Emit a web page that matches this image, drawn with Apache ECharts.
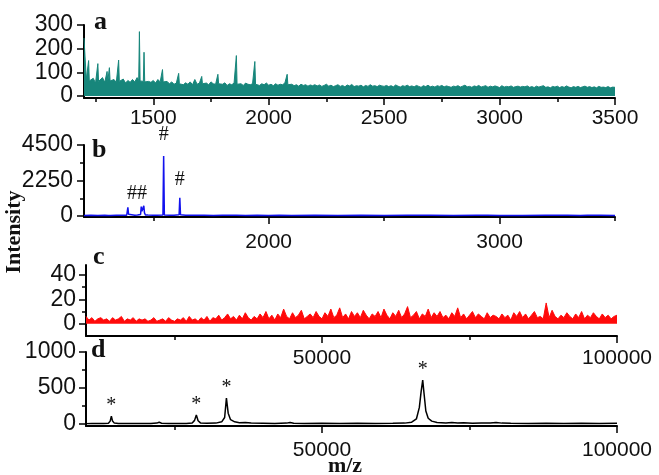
<!DOCTYPE html>
<html><head><meta charset="utf-8">
<script src="https://cdn.jsdelivr.net/npm/echarts@6/dist/echarts.min.js"></script>
<style>html,body{margin:0;padding:0;background:#fff}#c{width:659px;height:475px}</style>
</head><body><div id="c"></div>
<script>
// ---------- panel a (teal) ----------
const aMz = [
1200,1210,1217,1220,1223,1230,1240,1250,1257,1260,1263,1270,1280,1290,
1297,1300,1303,1307,1310,1313,1320,1330,1340,1347,1350,1353,1360,1370,1380,1390,
1400,1410,1420,1430,1437,1440,1443,1450,1457,1460,1463,1470,1480,1490,
1500,1510,1520,1530,1537,1540,1543,1550,1560,1570,1580,1590,
1600,1607,1610,1613,1620,1630,1640,1650,1660,1670,1680,1690,
1700,1707,1710,1713,1720,1730,1740,1750,1760,1770,1777,1780,1783,1790,
1800,1810,1820,1830,1840,1850,1857,1860,1863,1870,1880,1890,
1900,1910,1920,1930,1937,1940,1943,1950,1960,1970,1980,1990,
2000,2010,2020,2030,2040,2050,2060,2070,2077,2080,2083,2090,
2100,2110,2120,2130,2140,2150,2160,2170,2180,2190,
2200,2210,2220,2230,2240,2250,2260,2270,2280,2290,
2300,2310,2320,2330,2340,2350,2360,2370,2380,2390,
2400,2410,2420,2430,2440,2450,2460,2470,2480,2490,
2500,2510,2520,2530,2540,2550,2560,2570,2580,2590,
2600,2610,2620,2630,2640,2650,2660,2670,2680,2690,
2700,2710,2720,2730,2740,2750,2760,2770,2780,2790,
2800,2810,2820,2830,2840,2850,2860,2870,2880,2890,
2900,2910,2920,2930,2940,2950,2960,2970,2980,2990,
3000,3010,3020,3030,3040,3050,3060,3070,3080,3090,
3100,3110,3120,3130,3140,3150,3160,3170,3180,3190,
3200,3210,3220,3230,3240,3250,3260,3270,3280,3290,
3300,3310,3320,3330,3340,3350,3360,3370,3380,3390,
3400,3410,3420,3430,3440,3450,3460,3470,3480,3490,
3500];
const aInt = [
245,70,62,150,64,60,75,55,60,137,62,62,78,58,
64,104,62,66,120,64,62,70,58,60,152,62,60,72,55,66,
58,70,60,78,66,272,64,64,62,185,60,55,62,58,
66,55,70,60,62,112,60,56,62,52,60,50,
55,54,96,52,52,48,56,50,60,48,70,50,
55,52,83,52,50,55,48,60,52,50,50,92,52,55,
50,56,45,52,48,55,50,171,50,48,52,45,
55,50,48,52,50,146,50,50,45,52,48,55,
46,50,44,52,46,50,48,55,50,92,48,45,
50,44,48,42,50,45,48,42,47,44,
48,43,47,41,45,50,42,46,40,44,
48,41,45,39,47,43,49,40,44,42,
46,39,45,41,48,42,44,40,46,43,
41,45,40,44,39,47,42,38,44,41,
46,40,43,39,45,41,37,44,40,46,
39,42,38,44,41,45,39,43,40,37,
42,40,44,38,42,46,39,41,37,43,
40,45,38,41,44,37,42,39,43,40,
36,44,38,41,39,43,37,40,42,38,
41,39,43,37,40,36,42,38,41,44,
37,39,35,41,38,42,36,40,37,43,
38,35,40,37,41,36,39,42,37,40,
36,39,35,41,37,38,36,40,35,38,
37];

// ---------- panel b (blue) ----------
const bMz = [
1200,1230,1260,1290,1305,1310,1315,1340,1360,
1385,1388,1390,1393,1396,1420,1432,1435,1438,
1445,1448,1451,1454,1459,1462,1466,1477,1480,1483,
1500,1515,1518,1521,1542,1545,1548,1570,1590,
1612,1615,1618,1640,1680,1720,1760,1800,1840,
1860,1863,1866,1900,1950,2000,2046,2049,2052,
2100,2200,2300,2400,2500,2600,2639,2642,2645,2700,2800,2900,
2948,2951,2954,3000,3046,3049,3052,3100,3200,
3241,3244,3247,3294,3297,3300,3350,3380,3383,3386,
3436,3439,3442,3500];
const bInt = [
40,55,35,50,40,110,40,55,45,
50,120,550,120,50,55,60,180,60,
100,600,300,350,650,200,70,60,150,55,
50,45,90,45,60,3800,60,50,55,
80,1160,80,50,45,55,40,50,45,
45,90,45,40,50,40,45,70,45,
40,45,40,45,40,45,45,80,40,45,40,45,
45,110,45,40,40,120,45,40,45,
45,130,45,45,120,45,40,45,140,45,
45,120,45,40];
const bMarkMz = [1430, 1545, 1615];
const bMarkInt = [650, 3800, 1160];
const bMarkText = ['##', '#', '#'];

// ---------- panel c (red) ----------
const cMz = [
10000,10500,11000,11500,12000,12500,13000,13500,14000,14500,15000,15500,16000,16500,17000,17500,18000,18500,19000,19500,
20000,20500,21000,21500,22000,22500,23000,23500,24000,24500,25000,25500,26000,26500,27000,27500,28000,28500,29000,29500,
30000,30500,31000,31500,32000,32500,33000,33500,34000,34500,35000,35500,36000,36500,37000,37500,38000,38500,39000,39500,
40000,40500,41000,41500,42000,42500,43000,43500,44000,44500,45000,45500,46000,46500,47000,47500,48000,48500,49000,49500,
50000,50500,51000,51500,52000,52500,53000,53500,54000,54500,55000,55500,56000,56500,57000,57500,58000,58500,59000,59500,
60000,60500,61000,61500,62000,62500,63000,63500,64000,64500,65000,65500,66000,66500,67000,67500,68000,68500,69000,69500,
70000,70500,71000,71500,72000,72500,73000,73500,74000,74500,75000,75500,76000,76500,77000,77500,78000,78500,79000,79500,
80000,80500,81000,81500,82000,82500,83000,83500,84000,84500,85000,85500,86000,86500,87000,87500,88000,88500,89000,89500,
90000,90500,91000,91500,92000,92500,93000,93500,94000,94500,95000,95500,96000,96500,97000,97500,98000,98500,99000,99500,
100000];
const cInt = [
6,3,5,2,4,5,3,4,2,5,3,4,6,2,4,3,5,2,4,3,
4,2,3,5,2,3,4,2,5,3,2,4,3,5,2,6,3,4,2,5,
3,6,2,5,4,7,3,5,8,4,6,3,7,4,9,5,3,6,4,8,
5,10,4,7,3,8,5,12,6,4,9,5,7,11,4,6,8,5,10,6,
4,9,6,12,5,7,13,5,8,4,10,6,9,5,11,7,4,8,6,10,
5,12,7,4,9,6,11,5,8,14,5,7,10,4,8,6,12,5,9,6,
10,5,7,4,9,6,13,5,8,4,7,10,5,8,6,4,9,5,7,6,
4,8,5,7,3,9,6,10,5,8,4,7,10,5,6,4,17,5,11,6,
4,7,5,9,6,4,8,5,10,4,7,5,9,6,4,8,5,7,4,6,
7];

// ---------- panel d (black) ----------
const dMz = [
10000,11000,12000,13000,13800,14100,14300,14500,14800,15500,16500,18000,19500,
21000,22000,22400,22800,24000,25500,27000,28000,28400,28700,29000,29400,
30500,32000,33000,33500,33800,34100,34500,35200,36000,37000,38000,
40000,42000,44000,44600,45200,47000,50000,53000,56000,59000,62000,64000,
65200,66000,66500,66800,67070,67300,67600,68000,68600,69500,
71000,72000,73000,74000,75500,77000,78500,79500,80500,82000,85000,88000,91000,94000,97000,100000];
const dInt = [
5,8,6,8,10,40,110,40,12,8,6,8,6,
8,12,25,10,8,6,8,15,50,125,45,15,
10,12,30,90,360,150,60,30,18,20,12,
10,8,12,22,10,8,10,8,10,8,10,12,
25,70,230,450,610,420,180,80,40,22,
15,20,12,18,10,12,14,22,12,10,8,10,8,10,8,10];
const dMarkMz = [14300, 28700, 33800, 67070];
const dMarkInt = [110, 125, 360, 610];
const dMarkText = ['*', '*', '*', '*'];

// ---------- ticks ----------
const aXMajor = [1500, 2000, 2500, 3000, 3500];
const aXMinor = [1250, 1750, 2250, 2750, 3250];
const aYMajor = [0, 100, 200, 300];
const bXMajor = [2000, 3000];
const bXMinor = [1500, 2500, 3500];
const bYMajor = [0, 2250, 4500];
const bYMinor = [1125, 3375];
const cXMajor = [50000, 100000];
const cXMinor = [25000, 75000];
const cYMajor = [0, 20, 40];
const cYMinor = [10, 30];
const dXMajor = [50000, 100000];
const dXMinor = [25000, 75000];
const dYMajor = [0, 500, 1000];
const dYMinor = [250, 750];

const SANS = '"Liberation Sans", Arial, sans-serif';
const SERIF = '"Liberation Serif", "Times New Roman", serif';
const pair = (xs, ys) => xs.map((x, i) => [x, ys[i]]);

function mainAxis(dim, grid, min, max, ticks, labels, margin) {
  const isX = dim === 'x';
  return {
    type: 'value', gridIndex: grid, position: isX ? 'bottom' : 'left', min, max,
    axisLine: { show: true, onZero: false, lineStyle: { color: '#000', width: 2 } },
    axisTick: { show: true, length: 7, customValues: ticks, lineStyle: { color: '#000', width: 1.5 } },
    axisLabel: { show: labels.length > 0, customValues: labels, margin: margin, color: '#111',
      fontSize: isX ? 21 : 23, fontFamily: SANS, formatter: v => String(v) },
    splitLine: { show: false }, minorTick: { show: false }
  };
}
function minorAxis(dim, grid, min, max, ticks) {
  const isX = dim === 'x';
  return {
    type: 'value', gridIndex: grid, position: isX ? 'bottom' : 'left', min, max,
    axisLine: { show: false, onZero: false },
    axisTick: { show: ticks.length > 0, length: 4, customValues: ticks.length ? ticks : undefined,
      lineStyle: { color: '#000', width: 1.5 } },
    axisLabel: { show: false }, splitLine: { show: false }
  };
}

const xAxes = [
  mainAxis('x', 0, 1200, 3500, aXMajor, aXMajor, 10), minorAxis('x', 0, 1200, 3500, aXMinor),
  mainAxis('x', 1, 1200, 3500, bXMajor, bXMajor, 15), minorAxis('x', 1, 1200, 3500, bXMinor),
  mainAxis('x', 2, 10000, 100000, cXMajor, cXMajor, 12), minorAxis('x', 2, 10000, 100000, cXMinor),
  mainAxis('x', 3, 10000, 100000, dXMajor, dXMajor, 14), minorAxis('x', 3, 10000, 100000, dXMinor)
];
const yAxes = [
  mainAxis('y', 0, -8, 300, aYMajor, aYMajor, 11), minorAxis('y', 0, -8, 300, []),
  mainAxis('y', 1, -60, 4500, bYMajor, bYMajor, 11), minorAxis('y', 1, -60, 4500, bYMinor),
  mainAxis('y', 2, -10, 48, cYMajor, cYMajor, 10), minorAxis('y', 2, -10, 48, cYMinor),
  mainAxis('y', 3, -28, 1000, dYMajor, dYMajor, 10), minorAxis('y', 3, -28, 1000, dYMinor)
];

// label gap (px) above each annotated peak
function marks(mzs, ints, texts, gaps) {
  return {
    symbol: 'circle', symbolSize: 0, silent: true, animation: false,
    itemStyle: { color: 'rgba(0,0,0,0)' },
    label: { show: true, position: 'top', color: '#111', fontSize: 20, fontFamily: SERIF,
      formatter: p => p.name },
    data: mzs.map((x, i) => ({ name: texts[i], coord: [x, ints[i]], label: { distance: gaps[i] } }))
  };
}

const TEAL = '#17867b', BLUE = '#1212ee', RED = '#ff0a0a';

const option = {
  animation: false,
  backgroundColor: '#fff',
  grid: [
    { left: 84, right: 44, top: 25, bottom: 377, outerBoundsMode: 'none' },
    { left: 84, right: 44, top: 145, bottom: 258, outerBoundsMode: 'none' },
    { left: 86, right: 42, top: 265, bottom: 139, outerBoundsMode: 'none' },
    { left: 86, right: 42, top: 352, bottom: 49, outerBoundsMode: 'none' }
  ],
  xAxis: xAxes,
  yAxis: yAxes,
  series: [
    { type: 'line', xAxisIndex: 0, yAxisIndex: 0, data: pair(aMz, aInt), symbol: 'none',
      lineStyle: { color: TEAL, width: 1 }, itemStyle: { color: TEAL }, areaStyle: { color: TEAL, opacity: 1 } },
    { type: 'line', xAxisIndex: 2, yAxisIndex: 2, data: pair(bMz, bInt), symbol: 'none',
      lineStyle: { color: BLUE, width: 1.5 }, itemStyle: { color: BLUE },
      markPoint: marks(bMarkMz, bMarkInt, bMarkText, [2, 11, 8]) },
    { type: 'line', xAxisIndex: 4, yAxisIndex: 4, data: pair(cMz, cInt), symbol: 'none',
      lineStyle: { color: RED, width: 1 }, itemStyle: { color: RED }, areaStyle: { color: RED, opacity: 1 } },
    { type: 'line', xAxisIndex: 6, yAxisIndex: 6, data: pair(dMz, dInt), symbol: 'none',
      lineStyle: { color: '#000', width: 1.5 }, itemStyle: { color: '#000' },
      markPoint: marks(dMarkMz, dMarkInt, dMarkText, [0, 0, 0, 0]) }
  ],
  graphic: [
    { type: 'text', x: 94, y: 22, style: { text: 'a', font: 'bold 26px ' + SERIF, fill: '#111', textVerticalAlign: 'middle' } },
    { type: 'text', x: 92, y: 150, style: { text: 'b', font: 'bold 26px ' + SERIF, fill: '#111', textVerticalAlign: 'middle' } },
    { type: 'text', x: 93, y: 257, style: { text: 'c', font: 'bold 26px ' + SERIF, fill: '#111', textVerticalAlign: 'middle' } },
    { type: 'text', x: 91, y: 350, style: { text: 'd', font: 'bold 26px ' + SERIF, fill: '#111', textVerticalAlign: 'middle' } },
    { type: 'text', x: 14, y: 232, rotation: Math.PI / 2,
      style: { text: 'Intensity', font: 'bold 22px ' + SERIF, fill: '#111', textAlign: 'center', textVerticalAlign: 'middle' } },
    { type: 'text', x: 345, y: 466,
      style: { text: 'm/z', font: 'bold 22px ' + SERIF, fill: '#111', textAlign: 'center', textVerticalAlign: 'middle' } }
  ]
};

const chart = echarts.init(document.getElementById('c'), null, { renderer: 'canvas' });
chart.setOption(option);
</script>
</body></html>
